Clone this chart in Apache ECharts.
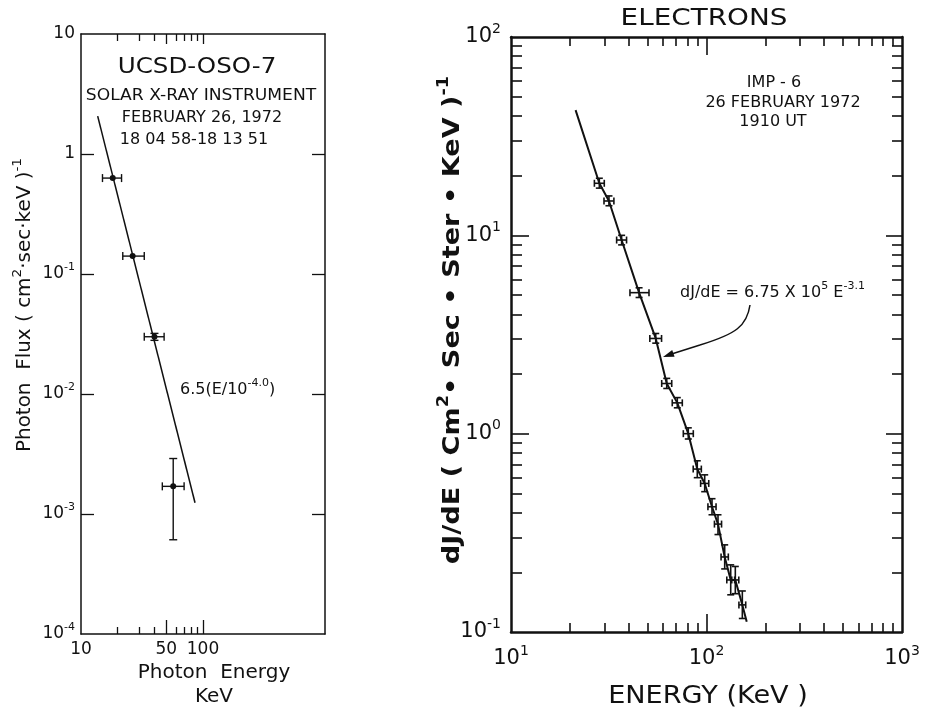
<!DOCTYPE html>
<html><head><meta charset="utf-8">
<script src="https://cdn.jsdelivr.net/npm/echarts@6/dist/echarts.min.js"></script>
<style>html,body{margin:0;padding:0;background:#fff}#c{width:925px;height:709px}</style>
</head><body><div id="c"></div>
<script>
// ---------- Left panel: UCSD-OSO-7 photon spectrum ----------
const photonEnergy     = [18.2, 26.5, 40, 57];
const photonEnergyLow  = [15, 22, 33, 46.4];
const photonEnergyHigh = [21.5, 33, 48, 70];
const photonFlux       = [0.63, 0.141, 0.030, 0.0017];
const photonFluxLow    = [0.63, 0.141, 0.028, 0.00061];
const photonFluxHigh   = [0.63, 0.141, 0.032, 0.0029];
const photonFitEnergy  = [13.7, 86];
const photonFitFlux    = [2.07, 0.00124];
const photonXLabels    = [10, 50, 100];
const photonXMajor     = [50, 100];
const photonXMinor     = [20, 30, 40, 60, 70, 80, 90];
const photonYTicks     = [1, 0.1, 0.01, 0.001];

// ---------- Right panel: IMP-6 electrons ----------
const electronEnergy     = [28.3, 31.7, 36.8, 45.2, 55.0, 62.6, 70.9, 80.7, 89.7, 97.9, 106.7, 114.5, 123.9, 133, 140.4, 152.5];
const electronEnergyLow  = [26.7, 29.9, 34.7, 40.6, 51.3, 59.0, 66.8, 76.1, 85.5, 93.3, 101.7, 109.8, 118.7, 127.0, 134.7, 146.5];
const electronEnergyHigh = [30.0, 33.6, 39.0, 50.8, 58.9, 66.4, 75.2, 85.6, 94.1, 102.7, 111.9, 119.4, 129.3, 139.3, 146.3, 158.7];
const electronFlux       = [18.3, 14.9, 9.47, 5.14, 3.02, 1.79, 1.43, 1.00, 0.663, 0.561, 0.428, 0.350, 0.239, 0.183, 0.183, 0.137];
const electronFluxLow    = [17.3, 14.1, 8.95, 4.86, 2.86, 1.69, 1.35, 0.94, 0.60, 0.51, 0.39, 0.31, 0.208, 0.154, 0.156, 0.117];
const electronFluxHigh   = [19.4, 15.8, 10.0, 5.44, 3.20, 1.90, 1.52, 1.07, 0.73, 0.62, 0.47, 0.39, 0.275, 0.218, 0.214, 0.161];
const electronFitStart   = [21.4, 42.8];
const electronFitEnd     = [160.6, 0.1125];
const electronXMajor     = [100];
const electronXMinor     = [20, 30, 40, 50, 60, 70, 80, 90, 200, 300, 400, 500, 600, 700, 800, 900];
const electronYMajor     = [1, 10];
const electronYMinor     = [0.2, 0.3, 0.4, 0.5, 0.6, 0.7, 0.8, 0.9, 2, 3, 4, 5, 6, 7, 8, 9, 20, 30, 40, 50, 60, 70, 80, 90];

const INK = '#111';
const FONT = 'DejaVu Sans';

function supLabel(v, forceExp) {
  const e = Math.round(Math.log10(v));
  if (!forceExp) { if (e === 0) return '1'; if (e === 1) return '10'; }
  return '10{s|' + e + '}';
}

function ax(grid, pos, min, max, o) {
  return {
    type: 'log', logBase: 10, gridIndex: grid, position: pos, min: min, max: max,
    axisLine: { show: !!o.line, lineStyle: { color: INK, width: o.lw || 1.5 } },
    axisTick: { show: !!o.ticks, inside: true, length: o.len || 8, customValues: o.ticks,
                lineStyle: { color: INK, width: o.tw || 1.3 } },
    axisLabel: o.label ? o.label : { show: false },
    splitLine: { show: false }, minorTick: { show: false }
  };
}

const leftXLabel = {
  show: true, customValues: photonXLabels, color: INK, fontFamily: FONT, fontSize: 17, margin: 7,
  formatter: v => String(Math.round(v))
};
const leftYLabel = {
  show: true, color: INK, fontFamily: FONT, fontSize: 17, margin: 6, lineHeight: 24,
  formatter: v => supLabel(v, false),
  rich: { s: { fontSize: 11, verticalAlign: 'top', lineHeight: 14, color: INK, fontFamily: FONT } }
};
const rightXLabel = {
  show: true, color: INK, fontFamily: FONT, fontSize: 21, margin: 12, lineHeight: 30,
  formatter: v => supLabel(v, true),
  rich: { s: { fontSize: 14, verticalAlign: 'top', lineHeight: 18, color: INK, fontFamily: FONT } }
};
const rightYLabel = {
  show: true, color: INK, fontFamily: FONT, fontSize: 21, margin: 10, lineHeight: 30,
  formatter: v => supLabel(v, true),
  rich: { s: { fontSize: 14, verticalAlign: 'top', lineHeight: 18, color: INK, fontFamily: FONT } }
};

const xAxes = [
  ax(0, 'bottom', 10, 1000, { line: true, ticks: photonXMajor, len: 14, label: leftXLabel }),
  ax(0, 'bottom', 10, 1000, { ticks: photonXMinor, len: 7 }),
  ax(0, 'top', 10, 1000, { line: true, ticks: photonXMajor, len: 10 }),
  ax(0, 'top', 10, 1000, { ticks: photonXMinor, len: 7 }),
  ax(1, 'bottom', 10, 1000, { line: true, lw: 2.5, ticks: electronXMajor, len: 18, tw: 1.6, label: rightXLabel }),
  ax(1, 'bottom', 10, 1000, { ticks: electronXMinor, len: 9, tw: 1.6 }),
  ax(1, 'top', 10, 1000, { line: true, lw: 2.5, ticks: electronXMajor, len: 18, tw: 1.6 }),
  ax(1, 'top', 10, 1000, { ticks: electronXMinor, len: 9, tw: 1.6 })
];
const yAxes = [
  ax(0, 'left', 0.0001, 10, { line: true, ticks: photonYTicks, len: 13, label: leftYLabel }),
  ax(0, 'right', 0.0001, 10, { line: true, ticks: photonYTicks, len: 13 }),
  ax(1, 'left', 0.1, 100, { line: true, lw: 2.5, ticks: electronYMajor, len: 18, tw: 1.6, label: rightYLabel }),
  ax(1, 'left', 0.1, 100, { ticks: electronYMinor, len: 11, tw: 1.6 }),
  ax(1, 'right', 0.1, 100, { line: true, lw: 2.5, ticks: electronYMajor, len: 16, tw: 1.6 }),
  ax(1, 'right', 0.1, 100, { ticks: electronYMinor, len: 10, tw: 1.6 })
];

function errorBars(dot, cap, lw) {
  return function (params, api) {
    const x = api.value(0), y = api.value(1);
    const c = api.coord([x, y]);
    const xl = api.coord([api.value(2), y])[0];
    const xh = api.coord([api.value(3), y])[0];
    const yl = api.coord([x, api.value(4)])[1];
    const yh = api.coord([x, api.value(5)])[1];
    const st = { stroke: INK, lineWidth: lw, fill: null };
    const ch = [];
    const seg = (x1, y1, x2, y2) => ch.push({ type: 'line', shape: { x1, y1, x2, y2 }, style: st });
    if (Math.abs(xh - xl) > 0.5) {
      seg(xl, c[1], xh, c[1]); seg(xl, c[1] - cap, xl, c[1] + cap); seg(xh, c[1] - cap, xh, c[1] + cap);
    }
    if (Math.abs(yl - yh) > 0.5) {
      seg(c[0], yl, c[0], yh); seg(c[0] - cap, yl, c[0] + cap, yl); seg(c[0] - cap, yh, c[0] + cap, yh);
    }
    if (dot) ch.push({ type: 'circle', shape: { cx: c[0], cy: c[1], r: dot }, style: { fill: INK } });
    return { type: 'group', children: ch };
  };
}

const photonRows = photonEnergy.map((e, i) => [e, photonFlux[i], photonEnergyLow[i], photonEnergyHigh[i], photonFluxLow[i], photonFluxHigh[i]]);
const electronRows = electronEnergy.map((e, i) => [e, electronFlux[i], electronEnergyLow[i], electronEnergyHigh[i], electronFluxLow[i], electronFluxHigh[i]]);
const photonFit = photonFitEnergy.map((e, i) => [e, photonFitFlux[i]]);
const electronFit = [electronFitStart].concat(electronEnergy.map((e, i) => [e, electronFlux[i]]), [electronFitEnd]);

const supRich = (sfs, bold) => ({ s: { fontSize: sfs, fontWeight: bold ? 'bold' : 'normal', verticalAlign: 'top', lineHeight: sfs + 2, fill: INK, fontFamily: FONT } });
function txt(x, y, text, fs, extra) {
  extra = extra || {};
  const el = {
    type: 'text', x: x, y: y,
    style: Object.assign({ text: text, fill: INK, fontFamily: FONT, fontSize: fs, align: 'center', verticalAlign: 'middle' }, extra.style || {})
  };
  if (extra.rotation) el.rotation = extra.rotation;
  if (extra.scaleX) el.scaleX = extra.scaleX;
  return el;
}

const graphics = [
  txt(197, 68, 'UCSD-OSO-7', 21, { scaleX: 1.17 }),
  txt(201, 96, 'SOLAR X-RAY INSTRUMENT', 16, { scaleX: 1.07 }),
  txt(202, 118, 'FEBRUARY 26, 1972', 16),
  txt(194, 140, '18 04 58-18 13 51', 16),
  txt(180, 390, '6.5(E/10{s|-4.0})', 16, { style: { align: 'left', lineHeight: 24, rich: supRich(11) } }),
  txt(25, 305, 'Photon  Flux ( cm{s|2}·sec·keV ){s|-1}', 19, { rotation: Math.PI / 2, scaleX: 1.05, style: { lineHeight: 28, rich: supRich(13) } }),
  txt(214, 673, 'Photon  Energy', 20),
  txt(214, 697, 'KeV', 20),
  txt(704, 19, 'ELECTRONS', 23, { scaleX: 1.21 }),
  txt(774, 83, 'IMP - 6', 16),
  txt(783, 103, '26 FEBRUARY 1972', 16),
  txt(773, 122, '1910 UT', 16),
  txt(680, 293, 'dJ/dE = 6.75 X 10{s|5} E{s|-3.1}', 16, { style: { align: 'left', lineHeight: 24, rich: supRich(11) } }),
  txt(453, 320, 'dJ/dE ( Cm{s|2}• Sec • Ster • KeV ){s|-1}', 23, { rotation: Math.PI / 2, scaleX: 1.18, style: { fontWeight: 'bold', lineHeight: 32, rich: supRich(15, true) } }),
  txt(708, 697, 'ENERGY (KeV )', 24, { scaleX: 1.13 }),
  { type: 'bezierCurve', shape: { x1: 750, y1: 305, cpx1: 747, cpy1: 326, cpx2: 736, cpy2: 334, x2: 700, y2: 345 }, style: { stroke: INK, lineWidth: 1.5, fill: null } },
  { type: 'line', shape: { x1: 700, y1: 345, x2: 670, y2: 354.5 }, style: { stroke: INK, lineWidth: 1.5 } },
  { type: 'polygon', shape: { points: [[663, 357], [674.6, 356.7], [672.2, 350.1]] }, style: { fill: INK } }
];

const chart = echarts.init(document.getElementById('c'), null, { renderer: 'canvas' });
chart.setOption({
  backgroundColor: '#fff',
  animation: false,
  grid: [
    { left: 81, top: 34, width: 244, height: 600 },
    { left: 511, top: 37, width: 391, height: 595 }
  ],
  xAxis: xAxes,
  yAxis: yAxes,
  series: [
    { type: 'line', xAxisIndex: 0, yAxisIndex: 0, data: photonFit, showSymbol: false, lineStyle: { color: INK, width: 1.5 } },
    { type: 'custom', xAxisIndex: 0, yAxisIndex: 0, data: photonRows, encode: { x: [0, 2, 3], y: [1, 4, 5] }, renderItem: errorBars(3, 4, 1.4) },
    { type: 'line', xAxisIndex: 4, yAxisIndex: 2, data: electronFit, showSymbol: false, lineStyle: { color: INK, width: 2 } },
    { type: 'custom', xAxisIndex: 4, yAxisIndex: 2, data: electronRows, encode: { x: [0, 2, 3], y: [1, 4, 5] }, renderItem: errorBars(0, 3.5, 1.6) }
  ],
  graphic: graphics
});
</script>
</body></html>
